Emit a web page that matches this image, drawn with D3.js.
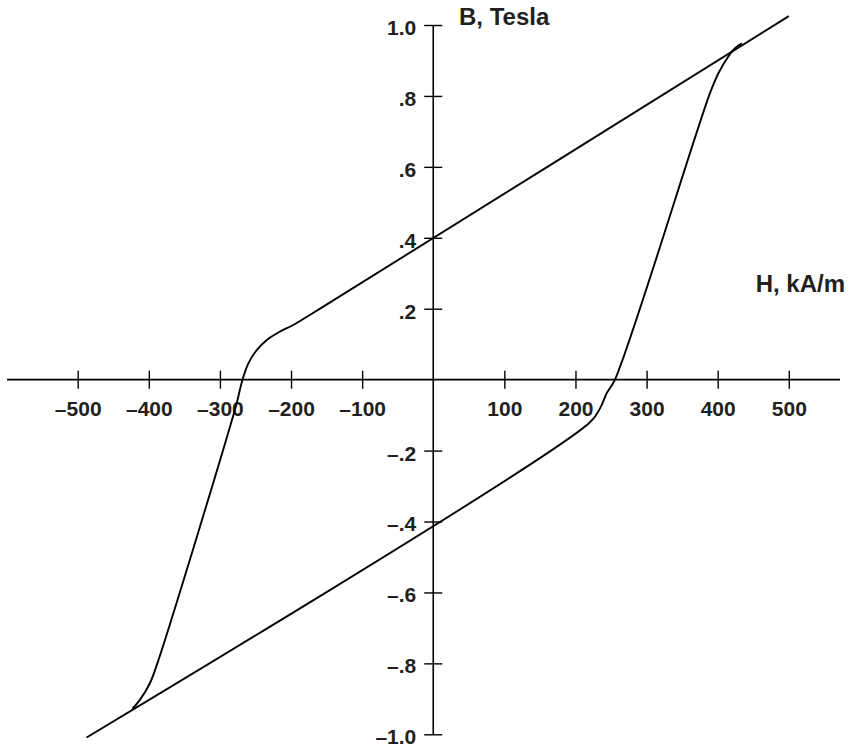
<!DOCTYPE html>
<html>
<head>
<meta charset="utf-8">
<script src="https://cdn.jsdelivr.net/npm/d3@7"></script>
<style>
  html, body { margin: 0; padding: 0; background: #fff; }
  svg { display: block; }
  text { font-family: "Liberation Sans", Arial, Helvetica, sans-serif; font-weight: bold; fill: #231f20; }
</style>
</head>
<body>
<svg id="chart" width="851" height="748"></svg>
<script>
// ---- data ----
const xTicks = [-500, -400, -300, -200, -100, 100, 200, 300, 400, 500];
const xTickLabels = ["\u2013500", "\u2013400", "\u2013300", "\u2013200", "\u2013100", "100", "200", "300", "400", "500"];
const yTicks = [1.0, 0.8, 0.6, 0.4, 0.2, -0.2, -0.4, -0.6, -0.8, -1.0];
const yTickLabels = ["1.0", ".8", ".6", ".4", ".2", "\u2013.2", "\u2013.4", "\u2013.6", "\u2013.8", "\u20131.0"];

// upper branch (descending field), H in kA/m, B in Tesla
const upperH = [500, -145, -197, -216, -234, -248, -260, -267, -272, -276.5, -388, -398.5, -412.5, -423];
const upperB = [1.025, 0.218, 0.154, 0.135, 0.112, 0.084, 0.046, 0.008, -0.029, -0.067, -0.800, -0.856, -0.903, -0.928];
// lower branch (ascending field)
const lowerH = [-487.5, 220, 234.5, 244, 255.5, 389, 401, 415, 424, 434];
const lowerB = [-1.009, -0.121, -0.081, -0.038, 0.0, 0.807, 0.864, 0.911, 0.934, 0.948];

const xTitle = "H, kA/m";
const yTitle = "B, Tesla";

// ---- scales ----
const svg = d3.select("#chart");
const x = d3.scaleLinear().domain([-500, 500]).range([77.7, 788.8]);
const y = d3.scaleLinear().domain([-1, 1]).range([734.3, 25]);

const ink = "#000";
const labelFont = "21px";

// x axis
const gx = svg.append("g").attr("transform", `translate(0,${y(0)})`);
gx.append("line").attr("x1", 7).attr("x2", 840).attr("y1", 0).attr("y2", 0)
  .attr("stroke", ink).attr("stroke-width", 1.6);
const xAxis = d3.axisBottom(x).tickValues(xTicks).tickSize(9)
  .tickFormat((d, i) => xTickLabels[i]);
gx.append("g").call(xAxis).call(g => {
  g.select(".domain").remove();
  g.selectAll(".tick line").attr("y1", -9).attr("y2", 9).attr("stroke", ink).attr("stroke-width", 1.4);
  g.selectAll(".tick text").attr("y", 36).attr("dy", null)
    .style("font-size", labelFont).style("font-family", "'Liberation Sans', Arial, sans-serif")
    .style("font-weight", "bold").attr("fill", "#231f20");
});

// y axis
const gy = svg.append("g").attr("transform", `translate(${x(0)},0)`);
gy.append("line").attr("x1", 0).attr("x2", 0).attr("y1", y(1)).attr("y2", y(-1))
  .attr("stroke", ink).attr("stroke-width", 1.6);
const yAxis = d3.axisLeft(y).tickValues(yTicks).tickSize(9)
  .tickFormat((d, i) => yTickLabels[i]);
gy.append("g").call(yAxis).call(g => {
  g.select(".domain").remove();
  g.selectAll(".tick line").attr("x1", -9).attr("x2", 9).attr("stroke", ink).attr("stroke-width", 1.4);
  g.selectAll(".tick text").attr("x", -17).attr("dy", "0.45em")
    .style("font-size", labelFont).style("font-family", "'Liberation Sans', Arial, sans-serif")
    .style("font-weight", "bold").attr("fill", "#231f20");
});

// titles
svg.append("text").attr("x", 459).attr("y", 25).attr("font-size", 24).text(yTitle);
svg.append("text").attr("x", 845).attr("y", 292).attr("font-size", 24)
  .attr("text-anchor", "end").text(xTitle);

// curves
const line = d3.line().x(d => x(d[0])).y(d => y(d[1])).curve(d3.curveCatmullRom.alpha(0.5));
const upper = upperH.map((h, i) => [h, upperB[i]]);
const lower = lowerH.map((h, i) => [h, lowerB[i]]);
[upper, lower].forEach(pts => {
  svg.append("path").datum(pts).attr("d", line)
    .attr("fill", "none").attr("stroke", ink).attr("stroke-width", 1.9)
    .attr("stroke-linejoin", "round");
});
</script>
</body>
</html>
